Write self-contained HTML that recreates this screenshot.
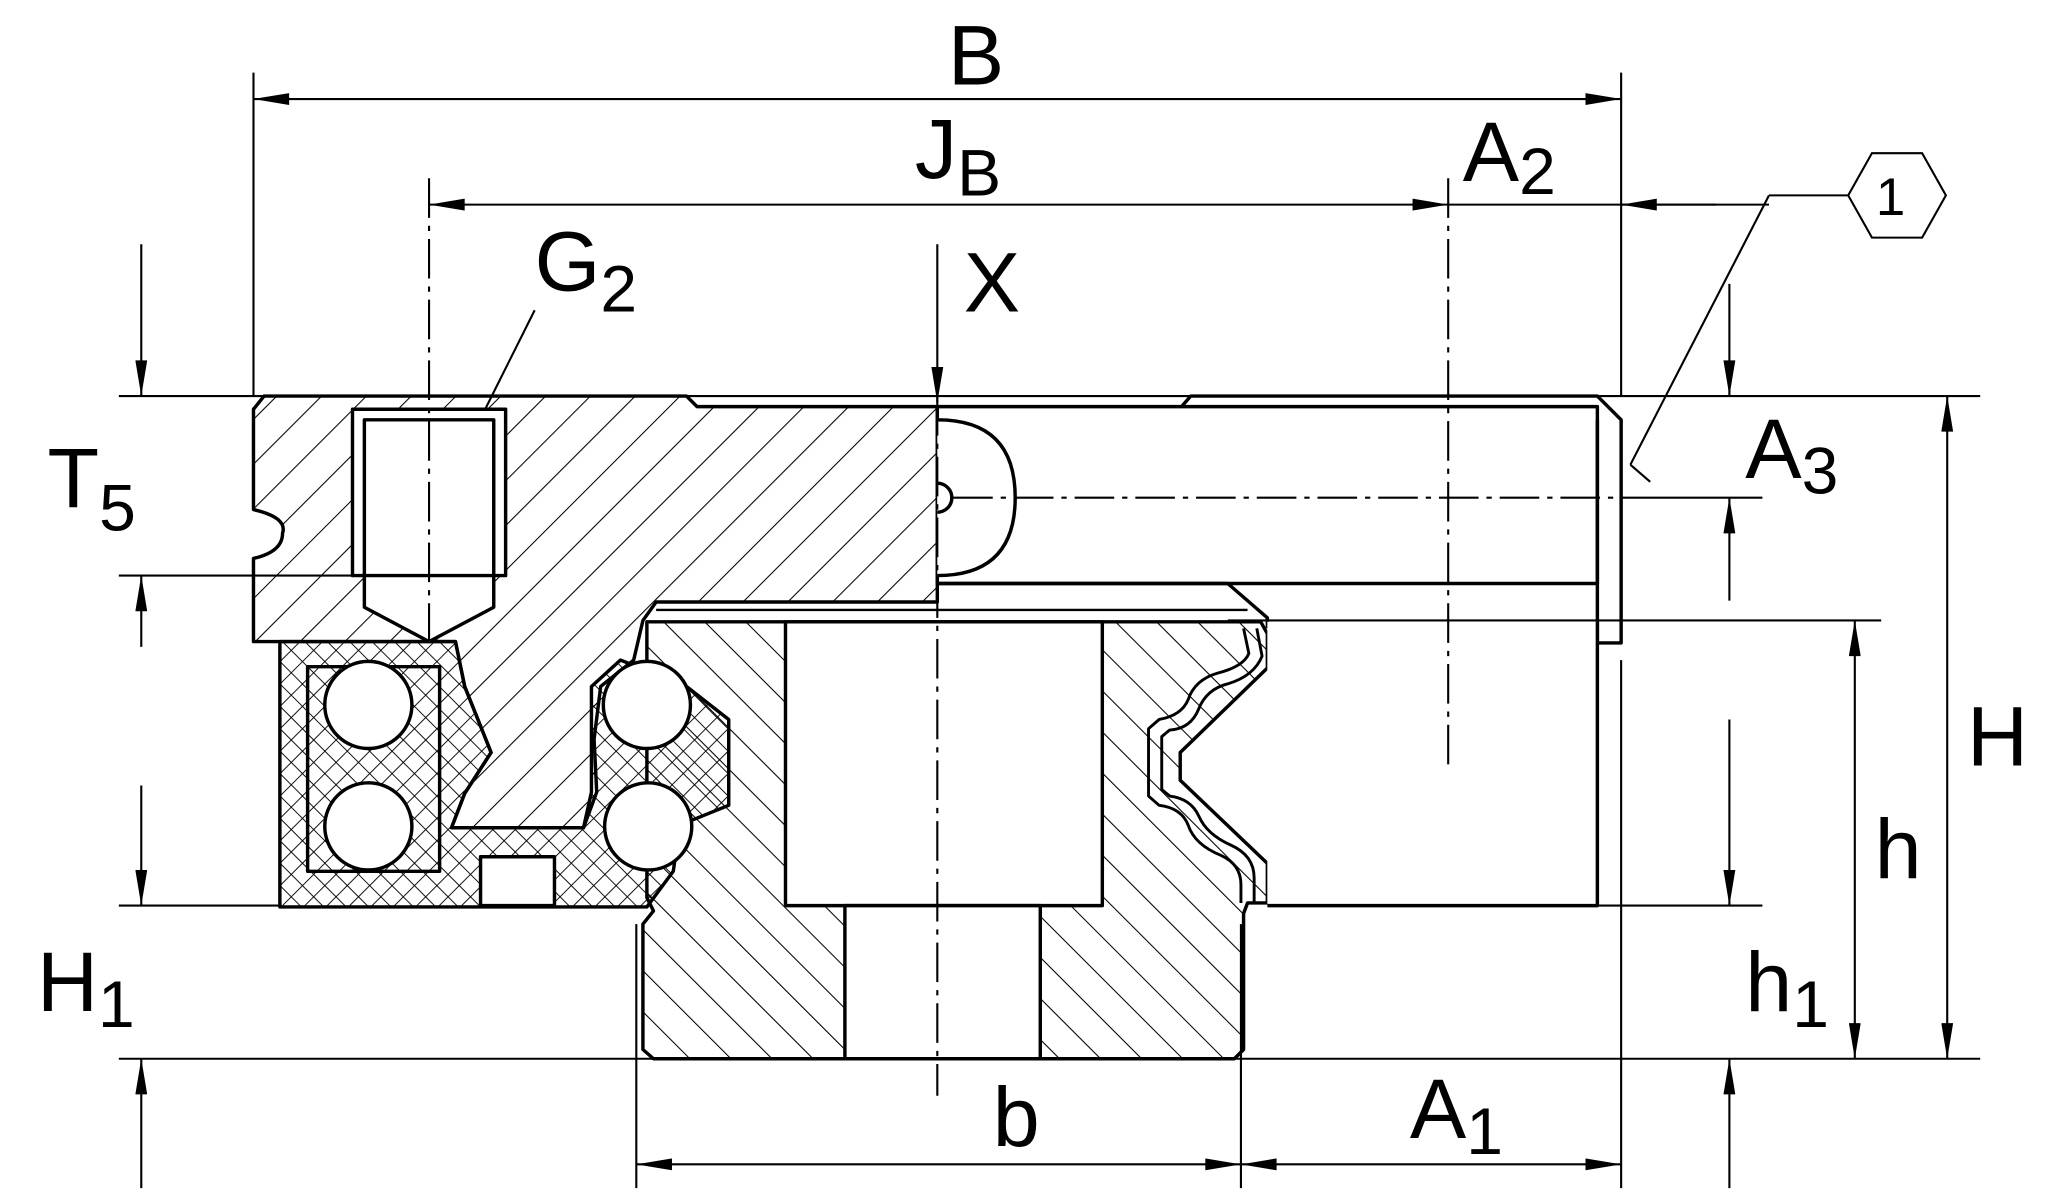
<!DOCTYPE html>
<html><head><meta charset="utf-8"><style>html,body{margin:0;padding:0;background:#fff}svg{display:block}</style></head>
<body>
<svg width="2070" height="1200" viewBox="0 0 1568 909" xmlns="http://www.w3.org/2000/svg" font-family="Liberation Sans, sans-serif">
<defs>
<pattern id="h1" patternUnits="userSpaceOnUse" width="24" height="24" patternTransform="rotate(45)"><line x1="0" y1="0" x2="0" y2="24" stroke="#000" stroke-width="1.6"/></pattern>
<pattern id="h2" patternUnits="userSpaceOnUse" width="22" height="22" patternTransform="rotate(-45)"><line x1="0" y1="0" x2="0" y2="22" stroke="#000" stroke-width="1.6"/></pattern>
<pattern id="cx" patternUnits="userSpaceOnUse" width="12" height="12" patternTransform="rotate(45)"><line x1="0" y1="0" x2="0" y2="12" stroke="#000" stroke-width="1.4"/><line x1="0" y1="0" x2="12" y2="0" stroke="#000" stroke-width="1.4"/></pattern>
<marker id="a" viewBox="0 0 24 8" refX="24" refY="4" markerWidth="48" markerHeight="9" markerUnits="userSpaceOnUse" orient="auto-start-reverse"><path d="M0,0 L24,4 L0,8 Z" fill="#000"/></marker>
</defs>
<g stroke="#000" fill="none" stroke-width="1.6">
<line x1="192" y1="55" x2="192" y2="300"/>
<line x1="1228" y1="55" x2="1228" y2="300"/>
<line x1="1228" y1="500" x2="1228" y2="900"/>
<line x1="482" y1="700" x2="482" y2="900"/>
<line x1="940" y1="700" x2="940" y2="900"/>
<line x1="90" y1="300" x2="1500" y2="300"/>
<line x1="90" y1="436" x2="270" y2="436"/>
<line x1="90" y1="686" x2="212" y2="686"/>
<line x1="1210" y1="686" x2="1335" y2="686"/>
<line x1="90" y1="802" x2="1500" y2="802"/>
<line x1="930" y1="470" x2="1425" y2="470"/>
<line x1="1228" y1="377" x2="1335" y2="377"/>
<line x1="192" y1="75" x2="1228" y2="75" marker-start="url(#a)" marker-end="url(#a)"/>
<line x1="325" y1="155" x2="1097" y2="155" marker-start="url(#a)" marker-end="url(#a)"/>
<line x1="1097" y1="155" x2="1340" y2="155"/>
<line x1="1300" y1="155" x2="1228" y2="155" marker-end="url(#a)"/>
<line x1="1340" y1="148" x2="1400" y2="148"/>
<line x1="1340" y1="148" x2="1235" y2="352"/>
<line x1="1235" y1="352" x2="1250" y2="365"/>
<polygon points="1400,148 1418,116 1456,116 1474,148 1456,180 1418,180"/>
<line x1="710" y1="185" x2="710" y2="305" marker-end="url(#a)"/>
<line x1="107" y1="185" x2="107" y2="300" marker-end="url(#a)"/>
<line x1="107" y1="490" x2="107" y2="436" marker-end="url(#a)"/>
<line x1="107" y1="595" x2="107" y2="686" marker-end="url(#a)"/>
<line x1="107" y1="900" x2="107" y2="802" marker-end="url(#a)"/>
<line x1="1310" y1="215" x2="1310" y2="300" marker-end="url(#a)"/>
<line x1="1310" y1="455" x2="1310" y2="377" marker-end="url(#a)"/>
<line x1="1310" y1="545" x2="1310" y2="686" marker-end="url(#a)"/>
<line x1="1310" y1="900" x2="1310" y2="802" marker-end="url(#a)"/>
<line x1="1475" y1="300" x2="1475" y2="802" marker-start="url(#a)" marker-end="url(#a)"/>
<line x1="1405" y1="470" x2="1405" y2="802" marker-start="url(#a)" marker-end="url(#a)"/>
<line x1="482" y1="882" x2="940" y2="882" marker-start="url(#a)" marker-end="url(#a)"/>
<line x1="940" y1="882" x2="1228" y2="882" marker-start="url(#a)" marker-end="url(#a)"/>
<line x1="350" y1="345" x2="405" y2="235"/>
</g>
<g stroke="#000" stroke-width="2.6" stroke-linejoin="round">
<path d="M710,308 L528,308 L520,300 L200,300 L192,310 L192,386 Q218,392 214,404 Q214,418 192,423 L192,486 L345,486 L352,520 L372,570 L352,601 L342,627 L442,627 L452,600 L450,560 L455,520 L480,500 L487,470 L497,456 L710,456 Z" fill="url(#h1)"/>
<rect x="710" y="308" width="500" height="134" fill="#fff"/>
<path d="M895,308 L902,300 L1210,300 L1228,318 L1228,487 L1210,487 L1210,442" fill="none"/>
<line x1="1210" y1="318" x2="1210" y2="442"/>
<line x1="710" y1="442" x2="930" y2="442"/>
<path d="M930,442 L960,468 L960,476" fill="none"/>
<line x1="497" y1="462" x2="945" y2="462" stroke-width="1.8"/>
<path d="M710,436 Q769,436 769,377 Q769,318 710,318" fill="#fff"/>
<path d="M710,366 A11,11 0 0 1 710,388" fill="#fff"/>
<rect x="267" y="310" width="116" height="126" fill="#fff"/>
<path d="M276,318 L374,318 L374,460 L325,486 L276,460 Z" fill="#fff"/>
<line x1="276" y1="436" x2="374" y2="436"/>
<path d="M490,471 L955,471 L960,480 L960,506 L894,570 L894,591 L960,654 L960,684 L945,684 L942,692 L942,795 L935,802 L495,802 L487,795 L487,700 L495,690 L490,680 Z" fill="url(#h2)"/>
<rect x="595" y="471" width="240" height="215" fill="#fff"/>
<rect x="640" y="686" width="148" height="116" fill="#fff"/>
<rect x="960" y="471" width="250" height="215" fill="#fff" stroke="none"/>
<path d="M960,686 L1210,686 L1210,471" fill="none"/>
<path d="M942,476 L946,495 Q942,505 922,510 Q905,515 900,530 Q895,542 878,545 L870,552 L870,603 L878,610 Q895,612 900,625 Q905,640 925,648 Q940,655 940,670 L940,684" fill="none" stroke-width="2.2"/>
<path d="M952,476 L956,497 Q950,512 930,518 Q914,522 908,537 Q902,552 886,553 L880,558 L880,598 L886,603 Q902,605 908,618 Q914,632 932,640 Q950,648 950,665 L950,684" fill="none" stroke-width="2.2"/>
<path d="M212,486 L345,486 L352,520 L372,570 L352,601 L342,627 L442,627 L448,600 L448,520 L470,500 L520,520 L552,545 L552,610 L515,625 L510,660 L490,687 L212,687 Z" fill="url(#cx)"/>
<rect x="233" y="505" width="100" height="155" fill="none"/>
<rect x="364" y="649" width="56" height="37" fill="#fff"/>
<circle cx="279" cy="534" r="33" fill="#fff"/>
<circle cx="279" cy="626" r="33" fill="#fff"/>
<circle cx="490" cy="534" r="33" fill="#fff"/>
<circle cx="491" cy="626" r="33" fill="#fff"/>
</g>
<g stroke="#000" stroke-width="1.6" stroke-dasharray="30,6,4,6" fill="none">
<line x1="710" y1="300" x2="710" y2="830"/>
<line x1="325" y1="135" x2="325" y2="490"/>
<line x1="1097" y1="135" x2="1097" y2="580"/>
<line x1="722" y1="377" x2="1228" y2="377"/>
</g>
<g font-size="64" fill="#000">
<text x="718" y="64">B</text>
<text x="693" y="135">J<tspan font-size="50" dy="13">B</tspan></text>
<text x="1108" y="137">A<tspan font-size="50" dy="10">2</tspan></text>
<text x="405" y="220">G<tspan font-size="50" dy="16">2</tspan></text>
<text x="730" y="236">X</text>
<text x="1421" y="163" font-size="40">1</text>
<text x="36" y="384">T<tspan font-size="50" dy="18">5</tspan></text>
<text x="1322" y="362">A<tspan font-size="50" dy="12">3</tspan></text>
<text x="1490" y="580">H</text>
<text x="1420" y="665">h</text>
<text x="28" y="766">H<tspan font-size="50" dy="12">1</tspan></text>
<text x="1322" y="766">h<tspan font-size="50" dy="12">1</tspan></text>
<text x="752" y="868">b</text>
<text x="1068" y="862">A<tspan font-size="50" dy="12">1</tspan></text>
</g>
</svg>
</body></html>
